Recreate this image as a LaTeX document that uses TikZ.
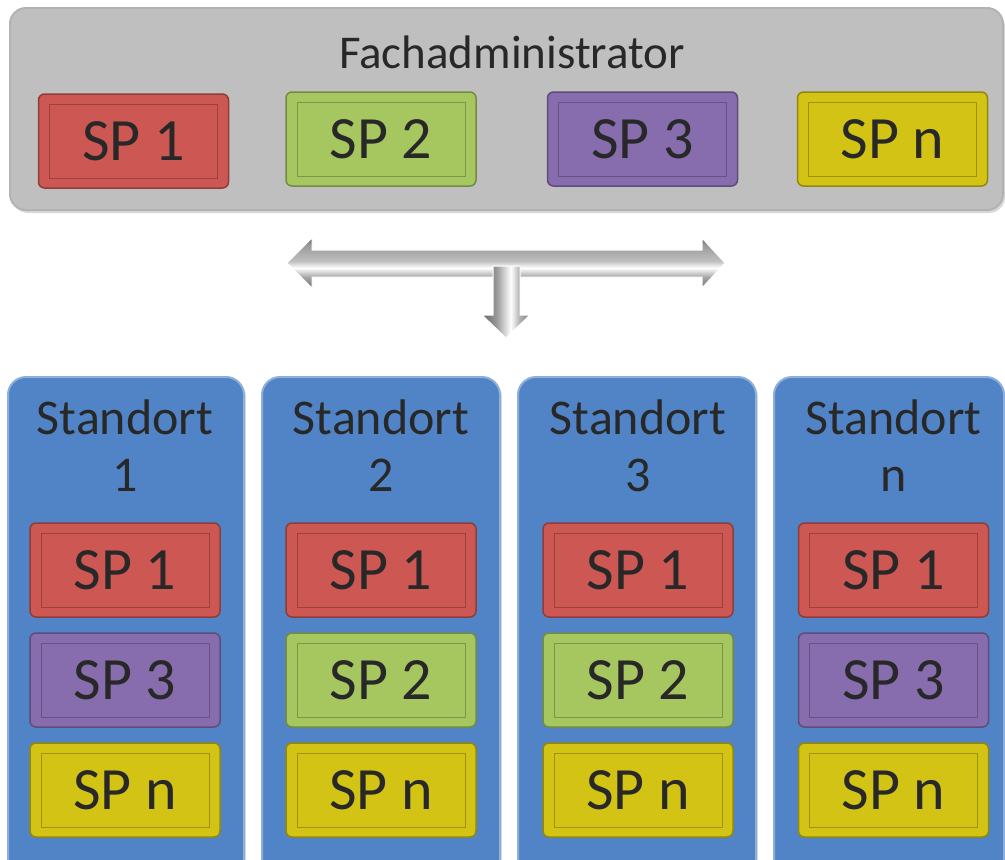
\documentclass[tikz,border=0pt]{standalone}
\usepackage{fontspec}
\setmainfont{Carlito}
\usetikzlibrary{shadows}
\definecolor{spred}{RGB}{205,87,82}
\definecolor{spgreen}{RGB}{166,199,96}
\definecolor{sppurple}{RGB}{136,109,174}
\definecolor{spyellow}{RGB}{210,195,20}
\definecolor{siteblue}{RGB}{80,132,198}
\definecolor{admingray}{RGB}{191,191,191}
\definecolor{textgray}{RGB}{40,40,40}
\pgfdeclareverticalshading{metalh}{100bp}{color(0bp)=(black!55); color(25bp)=(black!55);
  color(36bp)=(black!35); color(45bp)=(white); color(52bp)=(black!25); color(68bp)=(black!40);
  color(75bp)=(black!60); color(100bp)=(black!60)}
\pgfdeclarehorizontalshading{metalv}{100bp}{color(0bp)=(black!60); color(25bp)=(black!60);
  color(40bp)=(black!40); color(55bp)=(white); color(64bp)=(black!30); color(75bp)=(black!50);
  color(100bp)=(black!50)}
\begin{document}
\begin{tikzpicture}[
  spbox/.style={rounded corners=6pt, minimum width=190pt, minimum height=94pt, inner sep=0pt,
    fill=#1, draw=#1!70!black, line width=1.5pt, text=textgray,
    font=\fontsize{60}{66}\selectfont,
    path picture={\draw[sharp corners, #1!75!black, line width=1pt]
      ([shift={(11pt,10pt)}]path picture bounding box.south west) rectangle
      ([shift={(-11pt,-10pt)}]path picture bounding box.north east);}},
  sitebox/.style={rounded corners=18pt, fill=siteblue, draw=siteblue!65!white, line width=2pt,
    minimum height=500pt, anchor=north, inner sep=0pt,
    drop shadow={opacity=0.25, shadow xshift=2pt, shadow yshift=-2pt}},
  sitelabel/.style={text=textgray, align=center, font=\fontsize{50}{57}\selectfont}
]
\useasboundingbox (0pt,0pt) rectangle (1005pt,-860pt);
% Fachadministrator
\node[rounded corners=16pt, fill=admingray, draw=gray!60, line width=2pt,
  minimum width=993pt, minimum height=202pt, inner sep=0pt,
  drop shadow={opacity=0.3, shadow xshift=2pt, shadow yshift=-3pt}] (admin) at (506.5pt,-109pt) {};
\node[text=textgray, font=\fontsize{47}{52}\selectfont] (admintitle) at (512pt,-52pt) {Fachadministrator};
\node[spbox=spred] (fa1) at (133.5pt,-141pt) {SP 1};
\node[spbox=spgreen] (fa2) at (381pt,-139pt) {SP 2};
\node[spbox=sppurple] (fa3) at (642.5pt,-139pt) {SP 3};
\node[spbox=spyellow] (fan) at (892.5pt,-139pt) {SP n};
% arrows
\shadedraw[shading=metalh, draw=white, line width=1pt]
  (287pt,-263pt) -- (312pt,-238pt) -- (312pt,-250pt) -- (702pt,-250pt) -- (702pt,-238pt) -- (725pt,-263pt)
  -- (702pt,-288pt) -- (702pt,-277pt) -- (312pt,-277pt) -- (312pt,-288pt) -- cycle;
\shadedraw[shading=metalv, draw=white, line width=1pt]
  (493pt,-266pt) -- (520pt,-266pt) -- (520pt,-315pt) -- (530pt,-315pt) -- (506pt,-338pt)
  -- (482pt,-315pt) -- (493pt,-315pt) -- cycle;
% Standorte
\node[sitebox, minimum width=236pt] (st1) at (126pt,-376pt) {};
\node[sitebox, minimum width=238pt] (st2) at (381pt,-376pt) {};
\node[sitebox, minimum width=238pt] (st3) at (637pt,-376pt) {};
\node[sitebox, minimum width=230pt] (stn) at (889pt,-376pt) {};
\node[sitelabel] (st1label) at (125pt,-446pt) {Standort\\1};
\node[sitelabel] (st2label) at (381pt,-446pt) {Standort\\2};
\node[sitelabel] (st3label) at (638pt,-446pt) {Standort\\3};
\node[sitelabel] (stnlabel) at (893.5pt,-446pt) {Standort\\n};
\node[spbox=spred] (st1a) at (125pt,-570pt) {SP 1};
\node[spbox=sppurple] (st1b) at (125pt,-680pt) {SP 3};
\node[spbox=spyellow] (st1c) at (125pt,-790pt) {SP n};
\node[spbox=spred] (st2a) at (381pt,-570pt) {SP 1};
\node[spbox=spgreen] (st2b) at (381pt,-680pt) {SP 2};
\node[spbox=spyellow] (st2c) at (381pt,-790pt) {SP n};
\node[spbox=spred] (st3a) at (638pt,-570pt) {SP 1};
\node[spbox=spgreen] (st3b) at (638pt,-680pt) {SP 2};
\node[spbox=spyellow] (st3c) at (638pt,-790pt) {SP n};
\node[spbox=spred] (stna) at (893.5pt,-570pt) {SP 1};
\node[spbox=sppurple] (stnb) at (893.5pt,-680pt) {SP 3};
\node[spbox=spyellow] (stnc) at (893.5pt,-790pt) {SP n};
\end{tikzpicture}
\end{document}
